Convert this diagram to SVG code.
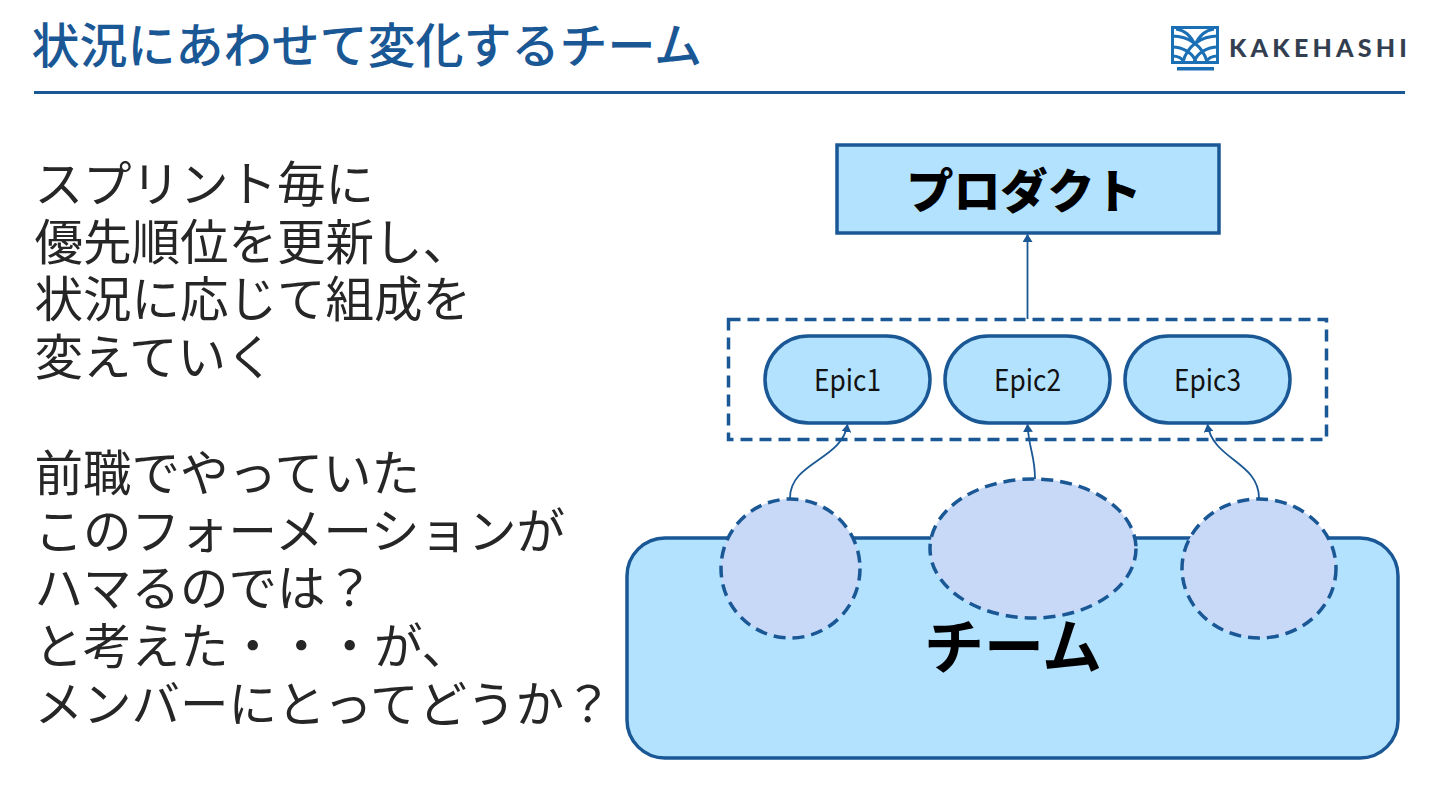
<svg xmlns="http://www.w3.org/2000/svg" width="1440" height="810" viewBox="0 0 1440 810">
<defs>
<style>
.jp{font-family:"Noto Sans CJK JP","Noto Sans",sans-serif}
.body{font-size:48.5px;fill:#262626;font-weight:400}
.st{stroke:#1a5795;fill:#b3e2ff;stroke-width:3.5}
.ell{stroke:#1a5795;fill:#c8d8f7;stroke-width:3.5;stroke-dasharray:12 7}
.cn{fill:none;stroke:#1a5795;stroke-width:1.8;marker-end:url(#a)}
.ep{font-family:"Noto Sans CJK JP","Noto Sans",sans-serif;font-size:30px;fill:#111;text-anchor:middle}
.logo{fill:none;stroke:#1b70b5;stroke-width:3}
</style>
<marker id="a" viewBox="0 0 8 10" refX="7.5" refY="5" markerWidth="8" markerHeight="10" markerUnits="userSpaceOnUse" orient="auto"><path d="M0 0L8 5L0 10Z" fill="#1a5795"/></marker>
</defs>
<rect width="1440" height="810" fill="#fff"/>
<text class="jp" x="31.500" y="63" font-size="48" font-weight="500" fill="#1a5795">状況にあわせて変化するチーム</text>
<line x1="34" y1="92.500" x2="1405" y2="92.500" stroke="#1a5795" stroke-width="3"/>
<g id="logo">
<path class="logo" stroke-width="3.500" d="M1172.500 63V27.500H1217.500V63M1171 62.500H1219"/>
<path class="logo" d="M1172 36C1189 36 1203 46 1207 62M1218 36C1201 36 1187 46 1183 62M1172 47C1183 47 1193 53 1196 62M1218 47C1207 47 1197 53 1194 62M1195 45C1191 36 1184 30 1176 29M1195 45C1199 36 1206 30 1214 29M1172 56C1178 56 1182 58 1184 62M1218 56C1212 56 1208 58 1206 62"/>
<rect x="1177" y="67" width="37" height="3.500" fill="#1b70b5"/>
<text x="1229" y="57" font-family="Lato,'Noto Sans',sans-serif" font-size="25" font-weight="900" letter-spacing="4.200" fill="#333f50">KAKEHASHI</text>
</g>
<g id="body-text" class="jp body">
<text x="34.500" y="202">スプリント毎に</text>
<text x="34.500" y="260">優先順位を更新し、</text>
<text x="34.500" y="317">状況に応じて組成を</text>
<text x="34.500" y="375">変えていく</text>
<text x="34.500" y="491">前職でやっていた</text>
<text x="34.500" y="549">このフォーメーションが</text>
<text x="34.500" y="606">ハマるのでは？</text>
<text x="34.500" y="664">と考えた・・・が、</text>
<text x="34.500" y="722">メンバーにとってどうか？</text>
</g>
<g id="product"><rect class="st" x="837" y="145" width="382" height="88"/>
<text class="jp" x="1024" y="208" font-size="47" font-weight="900" fill="#000" text-anchor="middle">プロダクト</text></g>
<g id="group"><rect x="728.500" y="319.500" width="598" height="120" fill="none" stroke="#1a5795" stroke-width="3.500" stroke-dasharray="12 7"/></g>
<g id="epic1"><rect class="st" x="765" y="336" width="165" height="87" rx="43.500"/><text class="ep" x="847.500" y="391" textLength="67" lengthAdjust="spacingAndGlyphs">Epic1</text></g>
<g id="epic2"><rect class="st" x="945" y="336" width="165" height="87" rx="43.500"/><text class="ep" x="1027.500" y="391" textLength="67" lengthAdjust="spacingAndGlyphs">Epic2</text></g>
<g id="epic3"><rect class="st" x="1125" y="336" width="165" height="87" rx="43.500"/><text class="ep" x="1207.500" y="391" textLength="67" lengthAdjust="spacingAndGlyphs">Epic3</text></g>
<g id="team"><rect class="st" x="627" y="538" width="771" height="220" rx="38"/>
<text class="jp" x="1013" y="669" font-size="60" font-weight="700" fill="#000" text-anchor="middle">チーム</text></g>
<g id="member1"><ellipse class="ell" cx="790.500" cy="568.500" rx="69.500" ry="69.500"/></g>
<g id="member2"><ellipse class="ell" cx="1033" cy="548.500" rx="103" ry="69.500"/></g>
<g id="member3"><ellipse class="ell" cx="1259" cy="568.500" rx="77" ry="69.500"/></g>
<g id="connectors">
<path class="cn" d="M1027.500 319V234.500"/>
<path class="cn" d="M790 498C790 462 842 460 847.500 424.500"/>
<path class="cn" d="M1035 479C1035 455 1029 450 1027.500 424.500"/>
<path class="cn" d="M1259 498C1259 462 1213 460 1207.500 424.500"/>
</g>
</svg>
